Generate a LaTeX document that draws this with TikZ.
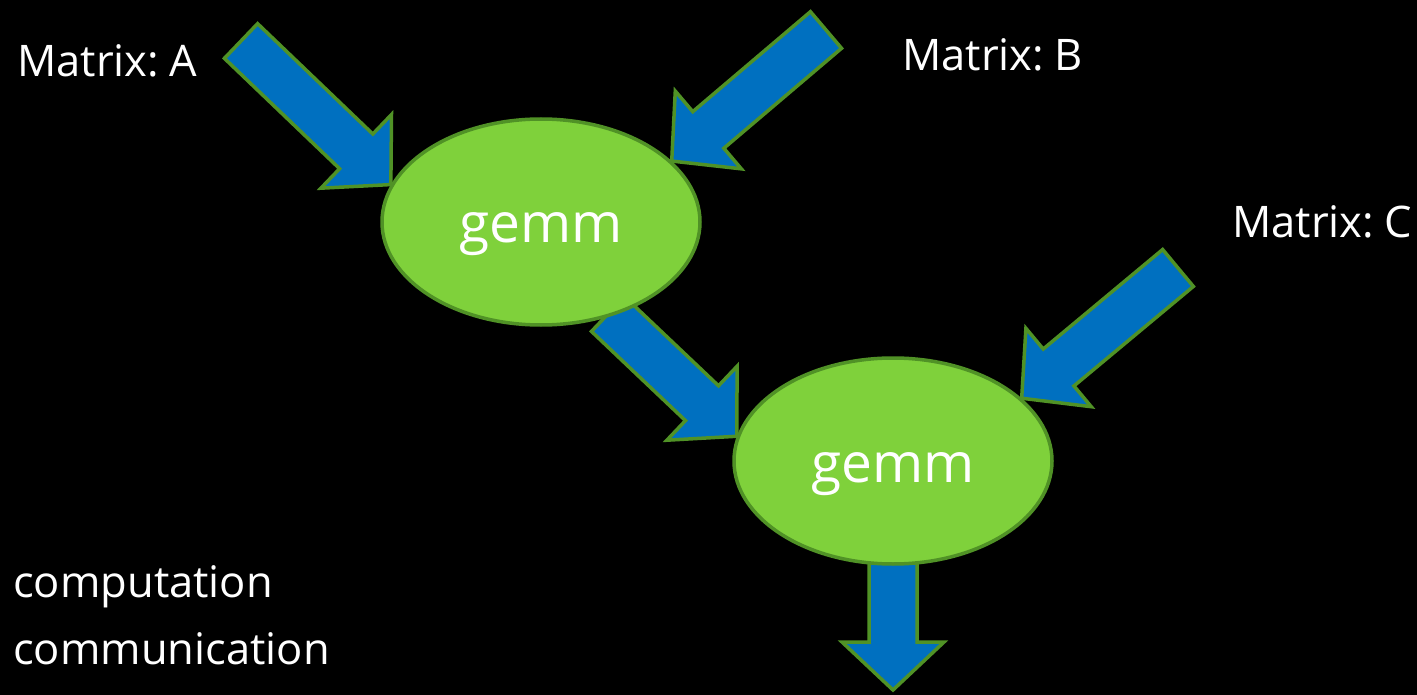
\documentclass[tikz,border=0pt]{standalone}
\usepackage{fontspec}
\setmainfont{Open Sans}[WordSpace=0.6]
\usetikzlibrary{calc, backgrounds, shapes.geometric}
\definecolor{taskgreen}{RGB}{127,209,59}
\definecolor{edgegreen}{RGB}{80,146,38}
\definecolor{flowblue}{RGB}{0,112,192}

\begin{document}
\begin{tikzpicture}[
    x=1pt, y=-1pt,
    task/.style={ellipse, draw=edgegreen, line width=3.5pt, fill=taskgreen,
      minimum width=318pt, minimum height=206pt, inner sep=0pt, text=white,
      font=\fontsize{55}{66}\selectfont, text height=42pt, text depth=0pt},
    tag/.style={anchor=base west, inner sep=0pt, text=white,
      font=\fontsize{43.5}{52}\selectfont},
    flow/.style={draw=edgegreen, line width=3.5pt, fill=flowblue, line join=miter,
      to path={($(\tikztostart)!24pt!90:(\tikztotarget)$)
        -- ($(\tikztotarget)!53.67pt!-26.57:(\tikztostart)$)
        -- ($(\tikztotarget)!70.04pt!-46.74:(\tikztostart)$)
        -- (\tikztotarget)
        -- ($(\tikztotarget)!70.04pt!46.74:(\tikztostart)$)
        -- ($(\tikztotarget)!53.67pt!26.57:(\tikztostart)$)
        -- ($(\tikztostart)!24pt!-90:(\tikztotarget)$) -- cycle}}
  ]
  \useasboundingbox (0,0) rectangle (1417,695);

  \node[task] (g1) at (541,222) {gemm};
  \node[task] (g2) at (893,461) {gemm};

  \node[tag] (ma) at (17,77) {Matrix: A};
  \node[tag] (mb) at (902,71) {Matrix: B};
  \node[tag] (mc) at (1232,238) {Matrix: C};
  \node[tag] (comp) at (13,597) {computation};
  \node[tag] (comm) at (13,664) {communication};

  \coordinate (ina) at (241,41);
  \coordinate (inb) at (826,30);
  \coordinate (inc) at (1178,268);
  \coordinate (mid) at (608,314);
  \coordinate (outtail) at (893,520);
  \coordinate (out) at (893,690);

  \begin{scope}[on background layer]
    \fill[black] (0,0) rectangle (1417,695);
    \path[flow] (ina) to (g1.166.5);
    \path[flow] (inb) to (g1.25.1);
    \path[flow] (inc) to (g2.26);
    \path[flow] (mid) to (g2.171.5);
    \path[flow] (outtail) to (out);
  \end{scope}
\end{tikzpicture}
\end{document}
